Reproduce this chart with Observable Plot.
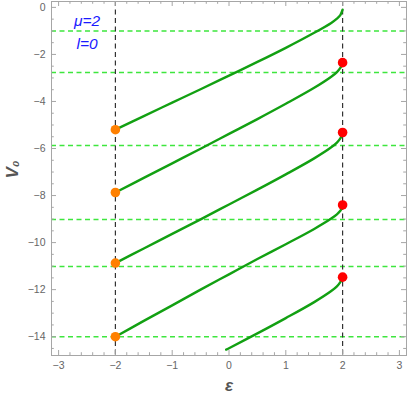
<!DOCTYPE html>
<html>
<head>
<meta charset="utf-8">
<script src="https://cdn.jsdelivr.net/npm/d3@7"></script>
<script src="https://cdn.jsdelivr.net/npm/@observablehq/plot@0.6"></script>
<style>
  html, body { margin: 0; padding: 0; background: #fff; }
  #chart svg { display: block; }
</style>
</head>
<body>
<div id="chart"></div>
<script>
// ---- data ----
const xTicks = [-3, -2, -1, 0, 1, 2, 3];
const yTicks = [0, -2, -4, -6, -8, -10, -12, -14];
const levels = [-1.0, -2.77, -5.87, -9.02, -11.02, -14.0];
const edges = [-2, 2];
const paramLabels = ["μ=2", "l=0"];
const paramX = [-2.5, -2.5];
const paramY = [-0.6, -1.55];

const eps = [-2, -1.5, -1, -0.5, 0, 0.5, 1, 1.5, 1.8, 1.9, 1.96, 2];
const curve1 = [-5.2, -4.62, -4.05, -3.48, -2.9, -2.32, -1.72, -1.08, -0.66, -0.48, -0.33, -0.1];
const curve2 = [-7.87, -7.25, -6.63, -6.01, -5.38, -4.75, -4.1, -3.42, -2.95, -2.75, -2.57, -2.4];
const curve3 = [-10.87, -10.25, -9.63, -9.01, -8.38, -7.75, -7.1, -6.42, -5.95, -5.75, -5.57, -5.4];
const curve4 = [-14.0, -13.33, -12.67, -12.0, -11.35, -10.7, -10.07, -9.42, -8.98, -8.8, -8.65, -8.48];
const eps5 = [-0.05, 0, 0.5, 1, 1.5, 1.8, 1.9, 1.96, 2];
const curve5 = [-14.55, -14.49, -13.86, -13.21, -12.53, -12.06, -11.86, -11.68, -11.5];

const orangeV = [-5.2, -7.87, -10.87, -14.0];
const redV = [-2.35, -5.32, -8.4, -11.47];

// ---- layout ----
const W = 408, H = 401;
const mL = 51, mR = 2, mT = 1, mB = 46;
const xDom = [-3.125, 3.125];
const yDom = [-14.8, 0.25];
const pxX = (W - mL - mR) / (xDom[1] - xDom[0]);
const pxY = (H - mT - mB) / (yDom[1] - yDom[0]);

const xMinor = d3.range(-3, 3.001, 0.2).map(v => +v.toFixed(2)).filter(v => !xTicks.includes(v));
const yMinor = d3.range(-14.5, 0.001, 0.5).filter(v => !yTicks.includes(v));

const table = [];
[curve1, curve2, curve3, curve4].forEach((c, k) => eps.forEach((e, i) => table.push({id: k, e, v: c[i]})));
eps5.forEach((e, i) => table.push({id: 4, e, v: curve5[i]}));

const frameColor = "#a6a6a6";
const majL = 5, minL = 2.8;
function xTickRules(vals, len) {
  const dy = len / pxY;
  return [
    Plot.ruleX(vals, {y1: yDom[0], y2: yDom[0] + dy, stroke: frameColor}),
    Plot.ruleX(vals, {y1: yDom[1], y2: yDom[1] - dy, stroke: frameColor})
  ];
}
function yTickRules(vals, len) {
  const dx = len / pxX;
  return [
    Plot.ruleY(vals, {x1: xDom[0], x2: xDom[0] + dx, stroke: frameColor}),
    Plot.ruleY(vals, {x1: xDom[1], x2: xDom[1] - dx, stroke: frameColor})
  ];
}

const chart = Plot.plot({
  width: W, height: H,
  marginLeft: mL, marginRight: mR, marginTop: mT, marginBottom: mB,
  style: {fontFamily: "'Liberation Sans', Arial, sans-serif", background: "#fff"},
  x: {domain: xDom, label: null},
  y: {domain: yDom, label: null},
  marks: [
    Plot.ruleY(levels, {stroke: "#3ee63e", strokeWidth: 1.5, strokeDasharray: "5,3.5"}),
    Plot.ruleX(edges, {stroke: "#333", strokeWidth: 1.2, strokeDasharray: "5,3.5"}),
    Plot.line(table, {x: "e", y: "v", z: "id", stroke: "#12a012", strokeWidth: 2.4, curve: "catmull-rom"}),
    Plot.dot(orangeV, {x: () => -2, y: d => d, r: 4.8, fill: "#ff8000", stroke: "none"}),
    Plot.dot(redV, {x: () => 2, y: d => d, r: 4.8, fill: "#ff0000", stroke: "none"}),
    Plot.text(paramLabels, {x: (d, i) => paramX[i], y: (d, i) => paramY[i], text: d => d, fill: "#1a1aff", fontSize: 15.5, fontStyle: "italic"}),
    Plot.frame({stroke: frameColor}),
    ...xTickRules(xTicks, majL), ...xTickRules(xMinor, minL),
    ...yTickRules(yTicks, majL), ...yTickRules(yMinor, minL),
    Plot.axisX(xTicks, {anchor: "bottom", tickSize: 0, tickPadding: 6, fontSize: 10.5, fill: "#666", label: null}),
    Plot.axisY(yTicks, {anchor: "left", tickSize: 0, tickPadding: 6, fontSize: 10.5, fill: "#666", label: null}),
    Plot.text(["ε"], {frameAnchor: "bottom", dy: 35, fontSize: 17, fontStyle: "italic", fontWeight: "bold", fill: "#555"}),
    Plot.text(["V₀"], {frameAnchor: "left", dx: -39, rotate: -90, fontSize: 17, fontStyle: "italic", fontWeight: "bold", fill: "#555"})
  ]
});
document.getElementById("chart").appendChild(chart);
</script>
</body>
</html>
